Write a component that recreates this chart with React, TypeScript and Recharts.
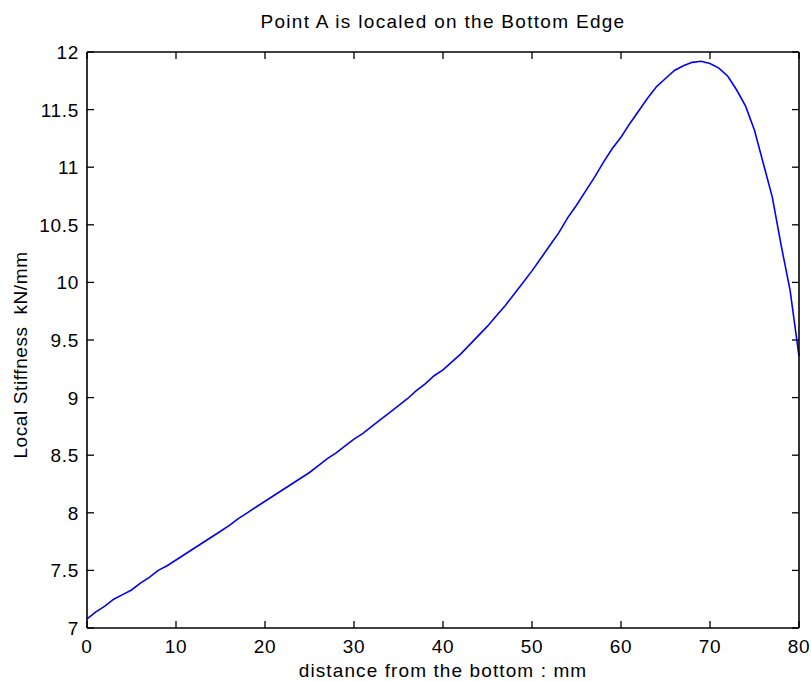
import { LineChart, Line, XAxis, YAxis } from 'recharts';

const distance = [
  0, 1, 2, 3, 4, 5, 6, 7, 8, 9, 10, 11, 12, 13, 14, 15, 16, 17, 18, 19, 20,
  21, 22, 23, 24, 25, 26, 27, 28, 29, 30, 31, 32, 33, 34, 35, 36, 37, 38, 39, 40,
  41, 42, 43, 44, 45, 46, 47, 48, 49, 50, 51, 52, 53, 54, 55, 56, 57, 58, 59, 60,
  61, 62, 63, 64, 65, 66, 67, 68, 69, 70, 71, 72, 73, 74, 75, 76, 77, 78, 79, 80,
];

const stiffness = [
  7.08, 7.14, 7.19, 7.25, 7.29, 7.33, 7.39, 7.44, 7.5, 7.54, 7.59,
  7.64, 7.69, 7.74, 7.79, 7.84, 7.89, 7.95, 8.0, 8.05, 8.1,
  8.15, 8.2, 8.25, 8.3, 8.35, 8.41, 8.47, 8.52, 8.58, 8.64,
  8.69, 8.75, 8.81, 8.87, 8.93, 8.99, 9.06, 9.12, 9.19, 9.24,
  9.31, 9.38, 9.46, 9.54, 9.62, 9.71, 9.8, 9.9, 10.0, 10.1,
  10.21, 10.32, 10.43, 10.56, 10.67, 10.79, 10.91, 11.04, 11.16, 11.26,
  11.38, 11.49, 11.6, 11.7, 11.77, 11.84, 11.88, 11.91, 11.92, 11.9,
  11.86, 11.79, 11.67, 11.53, 11.32, 11.03, 10.74, 10.32, 9.93, 9.36,
];

const xTicks = [0, 10, 20, 30, 40, 50, 60, 70, 80];
const yTicks = [7, 7.5, 8, 8.5, 9, 9.5, 10, 10.5, 11, 11.5, 12];

const data = distance.map((x, i) => ({ x, y: stiffness[i] }));

const font = '"Liberation Sans", Arial, sans-serif';
const axisLine = { stroke: '#000', strokeWidth: 1.6 };
const TICK = 7;

// matlab style: tick marks point into the plot box
const BottomTick = ({ x, y, payload }: any) => (
  <g>
    <line x1={x} x2={x} y1={y} y2={y - TICK} stroke="#000" strokeWidth={1.3} />
    <text x={x} y={y + 25} textAnchor="middle" fontFamily={font} fontSize={19} letterSpacing={0.7} fill="#000">
      {payload.value}
    </text>
  </g>
);

const LeftTick = ({ x, y, payload }: any) => (
  <g>
    <line x1={x} x2={x + TICK} y1={y} y2={y} stroke="#000" strokeWidth={1.3} />
    <text x={x - 8} y={y + 7} textAnchor="end" fontFamily={font} fontSize={19} letterSpacing={0.7} fill="#000">
      {payload.value}
    </text>
  </g>
);

const TopTick = ({ x, y }: any) => (
  <line x1={x} x2={x} y1={y} y2={y + TICK} stroke="#000" strokeWidth={1.3} />
);

const RightTick = ({ x, y }: any) => (
  <line x1={x} x2={x - TICK} y1={y} y2={y} stroke="#000" strokeWidth={1.3} />
);

export default function App() {
  return (
    <div style={{ position: 'absolute', left: 0, top: 0, width: 811, height: 681, background: '#fff' }}>
      <div
        style={{
          position: 'absolute',
          left: 87,
          width: 712,
          top: 11,
          textAlign: 'center',
          fontFamily: font,
          fontSize: 19,
          letterSpacing: 1.3,
          color: '#000',
          lineHeight: 'normal',
        }}
      >
        Point A is localed on the Bottom Edge
      </div>
      <LineChart width={811} height={681} data={data} margin={{ top: 51, right: 11, bottom: 0, left: 0 }}>
        <XAxis
          dataKey="x"
          type="number"
          domain={[0, 80]}
          ticks={xTicks}
          interval={0}
          height={53}
          tickSize={0}
          tickMargin={0}
          tickLine={false}
          tick={<BottomTick />}
          axisLine={axisLine}
          label={{ value: 'distance from the bottom : mm', position: 'center', dy: 16, fill: '#000', fontSize: 19, fontFamily: font, letterSpacing: 1.1 }}
        />
        <XAxis
          xAxisId="top"
          orientation="top"
          dataKey="x"
          type="number"
          domain={[0, 80]}
          ticks={xTicks}
          interval={0}
          height={1}
          tickSize={0}
          tickMargin={0}
          tickLine={false}
          tick={<TopTick />}
          axisLine={axisLine}
        />
        <YAxis
          type="number"
          domain={[7, 12]}
          ticks={yTicks}
          interval={0}
          width={87}
          tickSize={0}
          tickMargin={0}
          tickLine={false}
          tick={<LeftTick />}
          axisLine={axisLine}
          label={{ value: 'Local Stiffness\u00a0\u00a0kN/mm', angle: -90, position: 'center', dx: -23, dy: 15, fill: '#000', fontSize: 19, fontFamily: font, letterSpacing: 0.6 }}
        />
        <YAxis
          yAxisId="right"
          orientation="right"
          type="number"
          domain={[7, 12]}
          ticks={yTicks}
          interval={0}
          width={1}
          tickSize={0}
          tickMargin={0}
          tickLine={false}
          tick={<RightTick />}
          axisLine={axisLine}
        />
        <Line
          type="linear"
          dataKey="y"
          stroke="#0000ff"
          strokeWidth={1.6}
          dot={false}
          isAnimationActive={false}
        />
        <Line
          xAxisId="top"
          yAxisId="right"
          type="linear"
          dataKey="y"
          stroke="none"
          dot={false}
          activeDot={false}
          legendType="none"
          isAnimationActive={false}
        />
      </LineChart>
    </div>
  );
}
